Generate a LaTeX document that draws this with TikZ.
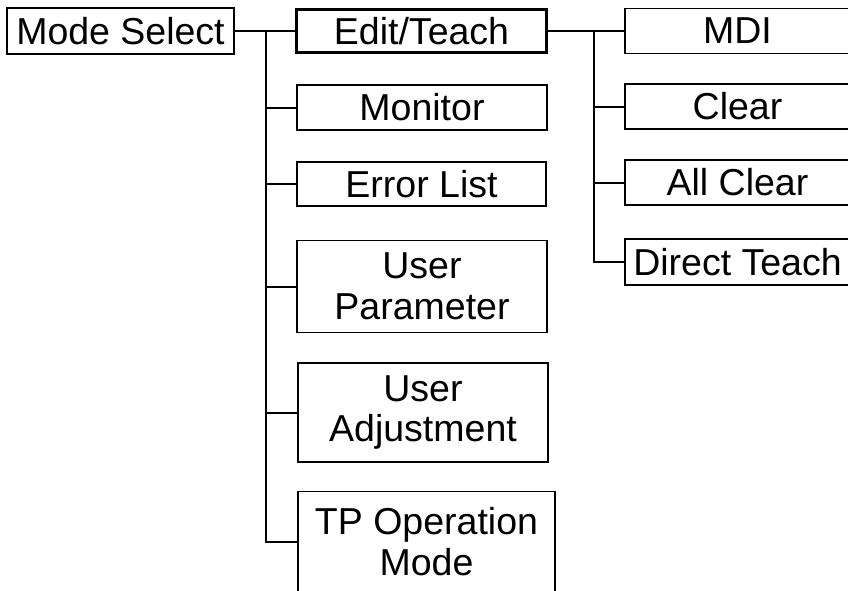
\documentclass[tikz,border=0pt]{standalone}
\usepackage{fontspec}
\setmainfont{Liberation Sans}
\begin{document}
\begin{tikzpicture}[x=1pt,y=-1pt,
  box/.style={draw=black, line width=1.8pt, fill=white, inner sep=0pt, align=center,
    font=\fontsize{37.5}{40.5}\selectfont},
  thickbox/.style={box, line width=3.4pt},
  conn/.style={draw=black, line width=2pt}]
\useasboundingbox (0,0) rectangle (848,590);
\clip (0,0) rectangle (848,590);
% left column
\node[box, minimum width=227pt, minimum height=46pt] (ms) at (120.5,31) {Mode Select};
\node[thickbox, minimum width=250pt, minimum height=43pt] (et) at (421.5,31) {Edit/Teach};
\node[box, minimum width=250pt, minimum height=45pt] (mon) at (422,107.5) {Monitor};
\node[box, minimum width=249pt, minimum height=44pt] (err) at (421.5,184) {Error List};
\node[box, minimum width=250pt, minimum height=92pt] (up) at (422,286.5) {User\\Parameter};
\node[box, minimum width=250pt, minimum height=99pt] (ua) at (423,412.5) {User\\Adjustment};
\node[box, minimum width=257pt, minimum height=100pt] (tp) at (426.5,541.5) {TP Operation\\Mode};
% right column
\node[box, minimum width=225pt, minimum height=45pt] (mdi) at (737.5,31) {MDI};
\node[box, minimum width=225pt, minimum height=45pt] (clr) at (737.5,106.5) {Clear};
\node[box, minimum width=225pt, minimum height=45pt] (ac) at (737.5,182.5) {All Clear};
\node[box, minimum width=225pt, minimum height=46pt] (dt) at (737.5,262) {Direct Teach};
% connectors
\coordinate (tr1) at (266,31);
\coordinate (tr2) at (594,31);
\draw[conn] (ms.east) -- (et.west);
\draw[conn] (tr1) |- (tp.west);
\draw[conn] (tr1 |- mon.west) -- (mon.west);
\draw[conn] (tr1 |- err.west) -- (err.west);
\draw[conn] (tr1 |- up.west) -- (up.west);
\draw[conn] (tr1 |- ua.west) -- (ua.west);
\draw[conn] (et.east) -- (mdi.west);
\draw[conn] (tr2) |- (dt.west);
\draw[conn] (tr2 |- clr.west) -- (clr.west);
\draw[conn] (tr2 |- ac.west) -- (ac.west);
\end{tikzpicture}
\end{document}
